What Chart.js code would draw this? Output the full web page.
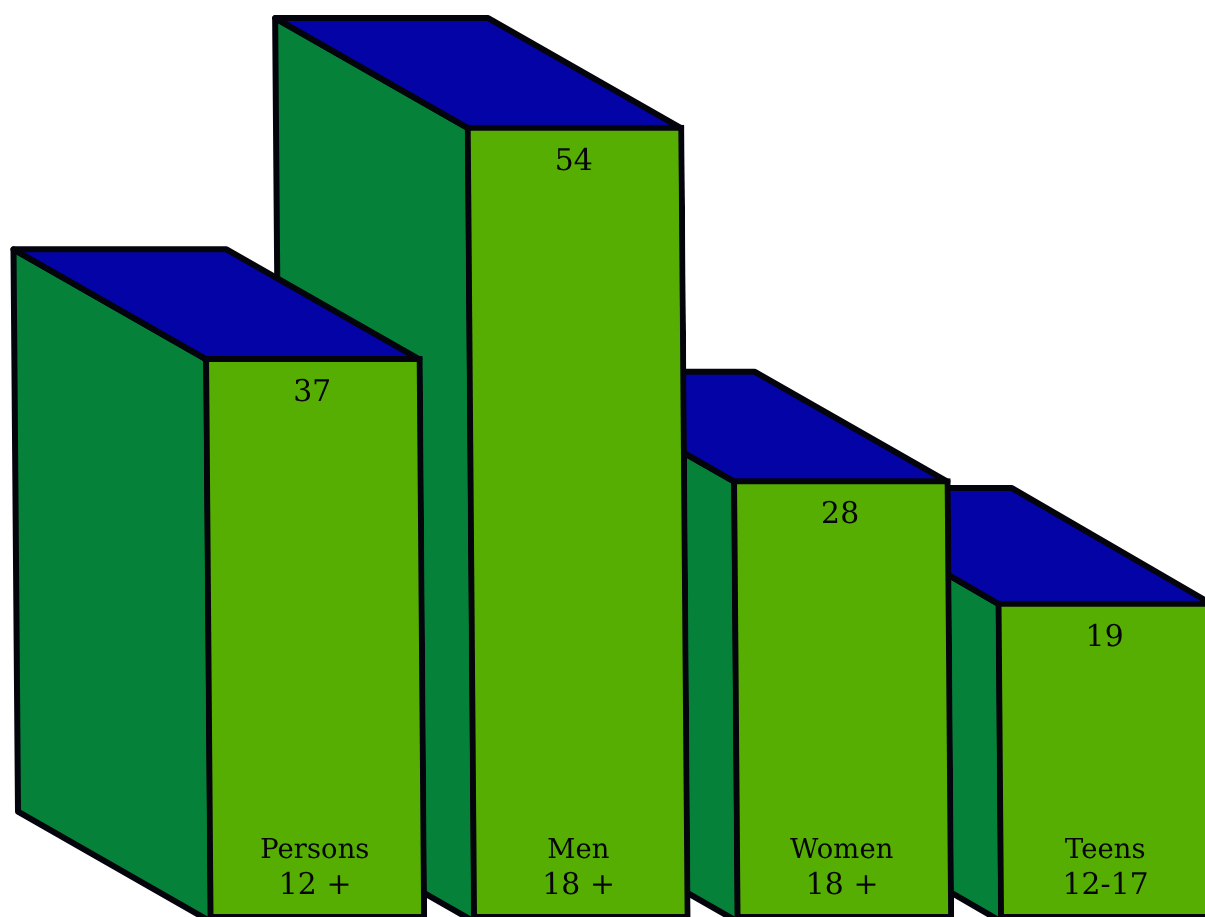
<!DOCTYPE html>
<html>
<head>
<meta charset="utf-8">
<title>Chart</title>
<style>
  html, body { margin: 0; padding: 0; background: #fff; overflow: hidden; }
  #wrap { width: 1205px; height: 917px; }
</style>
<script src="https://cdn.jsdelivr.net/npm/chart.js@4"></script>
</head>
<body>
<div id="wrap"><canvas id="chart"></canvas></div>
<script>
const categories = [['Persons', '12 +'], ['Men', '18 +'], ['Women', '18 +'], ['Teens', '12-17']];
const values = [37, 54, 28, 19];

const yMin = -4.23;
const yMax = 63.2;
const depthsX = [-192, -192, -192, -199];
const depthsY = [-110, -110, -110, -116];
const lean = 0.008; // the printed page is slightly skewed
const lineW = 6;

const frontColor = '#56ae03';
const sideColor = '#05813a';
const topColor = '#0404a6';
const lineColor = '#04040c';
const fontName = '"DejaVu Serif", serif';

function face(ctx, points, fill) {
  ctx.beginPath();
  points.forEach((p, i) => i ? ctx.lineTo(p[0], p[1]) : ctx.moveTo(p[0], p[1]));
  ctx.closePath();
  ctx.fillStyle = fill;
  ctx.fill();
  ctx.lineWidth = lineW;
  ctx.lineJoin = 'round';
  ctx.strokeStyle = lineColor;
  ctx.stroke();
}

const box3d = {
  id: 'box3d',
  beforeDatasetsDraw(chart) {
    const ctx = chart.ctx;
    ctx.save();
    ctx.transform(1, 0, lean, 1, 0, 0);
    const bars = chart.getDatasetMeta(0).data;
    // back to front so the nearer boxes cover the ones behind
    for (let i = bars.length - 1; i >= 0; i--) {
      const b = bars[i];
      const dx = depthsX[i];
      const dy = depthsY[i];
      const left = b.x - b.width / 2 + lineW / 2;
      const right = b.x + b.width / 2 - lineW / 2;
      const top = b.y + lineW / 2;
      const bottom = b.base + 2;
      face(ctx, [[left, top], [left + dx, top + dy], [left + dx, bottom + dy], [left, bottom]], sideColor);
      face(ctx, [[left, top], [left + dx, top + dy], [right + dx, top + dy], [right, top]], topColor);
    }
  },
  afterDatasetsDraw(chart) {
    const ctx = chart.ctx;
    const bars = chart.getDatasetMeta(0).data;
    ctx.fillStyle = '#06060a';
    ctx.textAlign = 'center';
    ctx.textBaseline = 'middle';
    bars.forEach((b, i) => {
      ctx.font = '30px ' + fontName;
      ctx.fillText(String(values[i]), b.x - 1, b.y + 37);
      ctx.font = '27.5px ' + fontName;
      ctx.fillText(categories[i][0], b.x - 2, 851);
      ctx.font = '30px ' + fontName;
      ctx.fillText(categories[i][1], b.x - 2, 886);
    });
    ctx.restore();
  }
};

new Chart(document.getElementById('chart'), {
  type: 'bar',
  data: {
    datasets: [{
      data: values.map((v, i) => ({ x: i, y: v })),
      base: yMin - 0.2,
      backgroundColor: frontColor,
      borderColor: lineColor,
      borderWidth: lineW,
      borderSkipped: false,
      barThickness: 219,
      clip: false
    }]
  },
  options: {
    responsive: true,
    maintainAspectRatio: false,
    animation: false,
    layout: { padding: 0 },
    plugins: { legend: { display: false }, tooltip: { enabled: false } },
    scales: {
      x: { type: 'linear', display: false, offset: false, min: -1.1765, max: 3.3966 },
      y: { display: false, min: yMin, max: yMax }
    }
  },
  plugins: [box3d]
});
</script>
</body>
</html>
